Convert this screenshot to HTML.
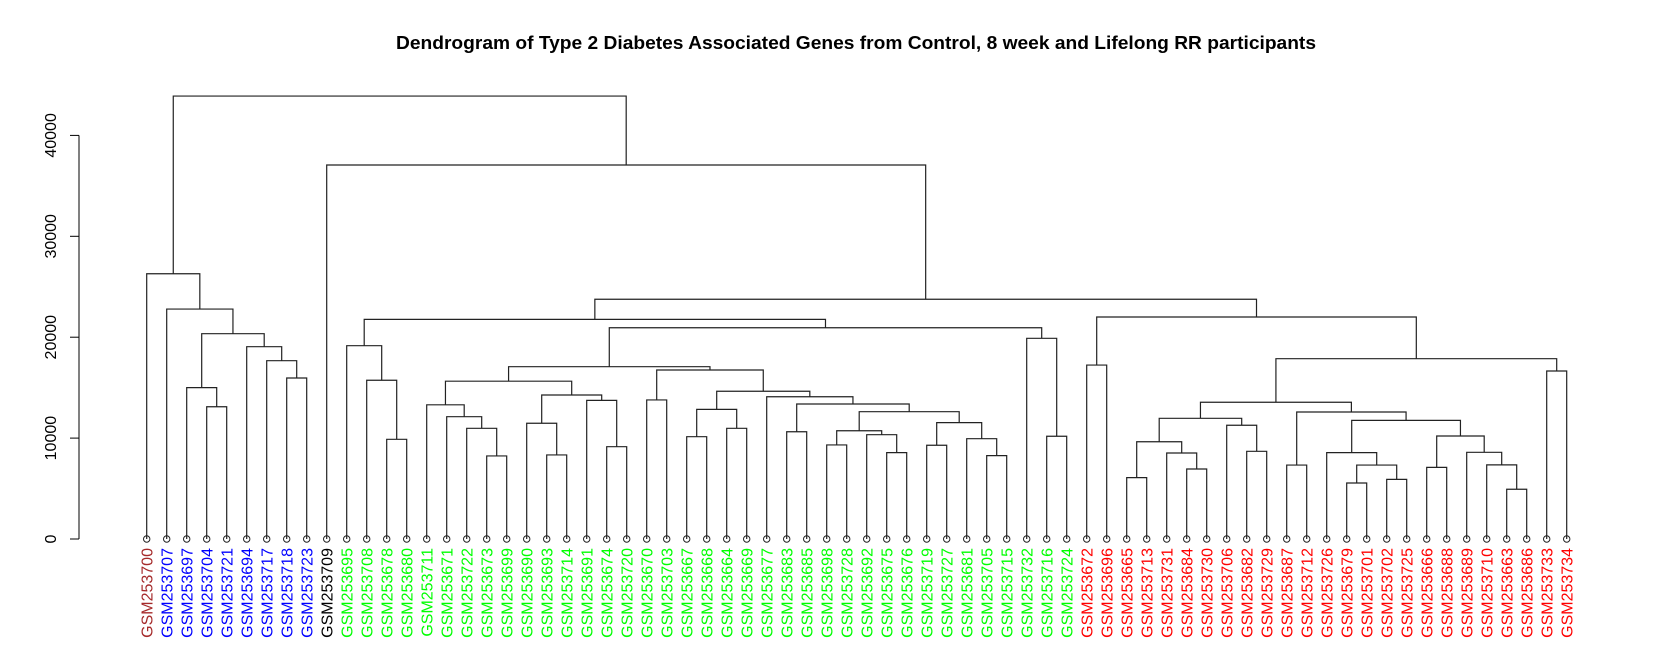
<!DOCTYPE html>
<html><head><meta charset="utf-8"><style>
html,body{margin:0;padding:0;background:#fff;}
svg{display:block;font-family:"Liberation Sans",sans-serif;}
</style></head><body>
<svg id="chart" width="1676" height="655" viewBox="0 0 1676 655" xmlns="http://www.w3.org/2000/svg">
<text x="856" y="49" text-anchor="middle" font-size="18" font-weight="bold" textLength="920" lengthAdjust="spacingAndGlyphs">Dendrogram of Type 2 Diabetes Associated Genes from Control, 8 week and Lifelong RR participants</text>
<g id="axis"></g>
<g id="tree"></g>
<g id="leaves"></g>
</svg>
<script>
const labels = ["GSM253700","GSM253707","GSM253697","GSM253704","GSM253721","GSM253694","GSM253717","GSM253718","GSM253723","GSM253709",
"GSM253695","GSM253708","GSM253678","GSM253680","GSM253711","GSM253671","GSM253722","GSM253673","GSM253699","GSM253690",
"GSM253693","GSM253714","GSM253691","GSM253674","GSM253720","GSM253670","GSM253703","GSM253667","GSM253668","GSM253664",
"GSM253669","GSM253677","GSM253683","GSM253685","GSM253698","GSM253728","GSM253692","GSM253675","GSM253676","GSM253719",
"GSM253727","GSM253681","GSM253705","GSM253715","GSM253732","GSM253716","GSM253724",
"GSM253672","GSM253696","GSM253665","GSM253713","GSM253731","GSM253684","GSM253730","GSM253706","GSM253682","GSM253729",
"GSM253687","GSM253712","GSM253726","GSM253679","GSM253701","GSM253702","GSM253725","GSM253666","GSM253688","GSM253689",
"GSM253710","GSM253663","GSM253686","GSM253733","GSM253734"];
const groupSizes = [1, 8, 1, 37, 25];
const groupColors = ["#A52A2A", "#0000FF", "#000000", "#00FF00", "#FF0000"];
// hclust-style merges: negative = leaf (1-based), positive = earlier merge (1-based)
const mergeLeft  = [-4,-3,-8,-7,-6,2,-2,-1,-13,-12,-11,-18,-17,-16,-15,-21,-20,-24,-23,17,15,-26,-28,-30,23,-33,-35,-38,-37,27,-40,-43,-42,31,30,26,-32,25,22,21,-46,-45,40,11,-48,-50,-53,-52,46,-56,-55,49,-58,-61,-63,54,-60,-65,-69,-68,-67,58,57,53,52,-71,65,45,44,-10,8];
const mergeRight = [-5,1,-9,3,4,5,6,7,-14,9,10,-19,12,13,14,-22,16,-25,18,19,20,-27,-29,-31,24,-34,-36,-39,28,29,-41,-44,32,33,34,35,36,37,38,39,-47,41,42,43,-49,-51,-54,47,48,-57,50,51,-59,-62,-64,55,56,-66,-70,59,60,61,62,63,64,-72,66,67,68,69,70];
const mergeHeights = [13110,15000,15960,17670,19060,20350,22790,26290,9880,15730,19160,8230,10970,12120,13300,8330,11470,9150,13740,14270,15640,13780,10140,10970,12850,10630,9320,8560,10340,10730,9290,8260,9940,11530,12620,13380,14100,14640,16750,17080,10180,19890,20940,21770,17240,6080,6940,8520,9640,8690,11270,11960,7330,5550,5910,7330,8560,7100,4930,7350,8590,10210,11760,12590,13550,16650,17870,22000,23760,37070,43900];
const yTicks = [0,10000,20000,30000,40000];

const NS="http://www.w3.org/2000/svg";
const leafX = i => 146.7 + 20*i;
const yScale = v => 539 - v*100.9/10000;
function mk(tag, attrs, parent){const e=document.createElementNS(NS,tag);for(const k in attrs)e.setAttribute(k,attrs[k]);parent.appendChild(e);return e;}

// axis
const axis=document.getElementById('axis');
const al=mk('line',{x1:79,x2:79,y1:yScale(yTicks[0]),y2:yScale(yTicks[yTicks.length-1]),stroke:'#000','stroke-width':1},axis);


yTicks.forEach(t=>{
  const tk=mk('line',{x1:70,x2:79,y1:yScale(t),y2:yScale(t),stroke:'#000','stroke-width':1},axis);
  
  
  const tx=mk('text',{x:56,y:yScale(t),'font-size':16,'text-anchor':'middle',transform:`rotate(-90 56 ${yScale(t)})`},axis);
  tx.textContent=String(t);
  
  
});

// tree
const tree=document.getElementById('tree');
const nodeX=[], nodeY=[];
function ref(r){ return r<0 ? [leafX(-r-1), yScale(0)] : [nodeX[r-1], nodeY[r-1]]; }
for(let m=0;m<mergeHeights.length;m++){
  const [lx,ly]=ref(mergeLeft[m]); const [rx,ry]=ref(mergeRight[m]);
  const h=yScale(mergeHeights[m]);
  nodeX.push((lx+rx)/2); nodeY.push(h);
  const p=mk('path',{d:`M${lx},${ly}V${h}H${rx}V${ry}`,fill:'none',stroke:'#222','stroke-width':1.2},tree);
  
  
}

// leaves
const leaves=document.getElementById('leaves');
const leafColor=[]; groupSizes.forEach((n,g)=>{for(let k=0;k<n;k++)leafColor.push(groupColors[g]);});
labels.forEach((lab,i)=>{
  const x=leafX(i);
  const c=mk('circle',{cx:x,cy:yScale(0),r:3.2,fill:'none',stroke:'#222','stroke-width':1},leaves);
  
  
  const t=mk('text',{x:x+6,y:548,'font-size':16,'text-anchor':'end',fill:leafColor[i],transform:`rotate(-90 ${x+6} 548)`},leaves);
  t.textContent=lab;
  
  
});
</script>
</body></html>
